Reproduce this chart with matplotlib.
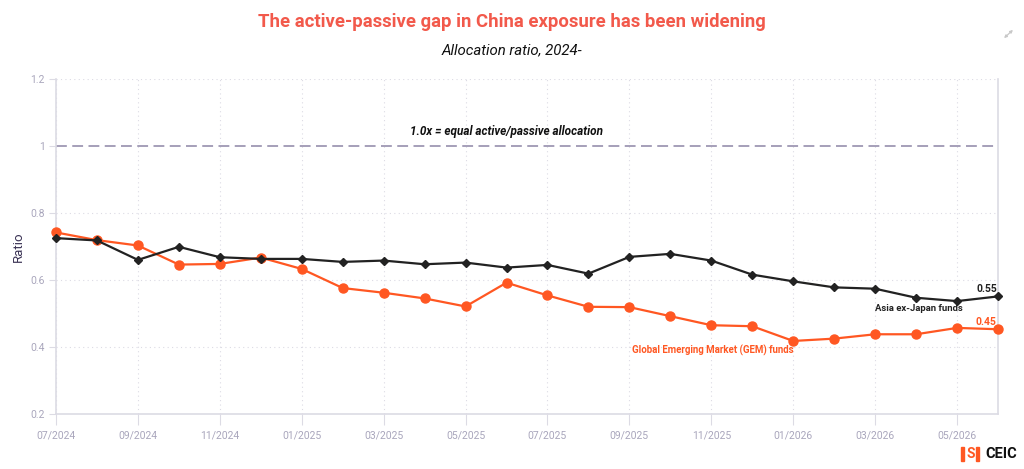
"""Active vs passive China allocation ratio, 2024-"""

import matplotlib
matplotlib.use("Agg")
import matplotlib.pyplot as plt
from matplotlib.patches import Rectangle, FancyArrowPatch

plt.rcParams["font.family"] = ["Roboto", "DejaVu Sans"]

months = ["07/2024", "08/2024", "09/2024", "10/2024", "11/2024", "12/2024",
          "01/2025", "02/2025", "03/2025", "04/2025", "05/2025", "06/2025",
          "07/2025", "08/2025", "09/2025", "10/2025", "11/2025", "12/2025",
          "01/2026", "02/2026", "03/2026", "04/2026", "05/2026", "06/2026"]

asia_ex_japan = [0.725, 0.718, 0.660, 0.699, 0.668, 0.663,
                 0.663, 0.654, 0.658, 0.647, 0.652, 0.637,
                 0.645, 0.619, 0.669, 0.678, 0.658, 0.616,
                 0.596, 0.578, 0.574, 0.547, 0.537, 0.551]

gem = [0.742, 0.719, 0.703, 0.646, 0.648, 0.667,
       0.633, 0.576, 0.562, 0.545, 0.521, 0.592,
       0.554, 0.520, 0.519, 0.492, 0.465, 0.462,
       0.418, 0.425, 0.438, 0.438, 0.457, 0.453]

y_ticks = [0.2, 0.4, 0.6, 0.8, 1, 1.2]
y_tick_labels = ["0.2", "0.4", "0.6", "0.8", "1", "1.2"]

BLACK = "#222222"
ORANGE = "#ff5722"
GRID = "#dcdbe4"
TICK = "#a9a6bc"

fig = plt.figure(figsize=(10.24, 4.69), dpi=100)
ax = fig.add_axes([56 / 1024, 1 - 414 / 469, 942 / 1024, 335 / 469])

x = list(range(len(months)))
ax.plot(x, asia_ex_japan, color=BLACK, lw=1.6, marker="D", ms=4,
        clip_on=False, zorder=4)
ax.plot(x, gem, color=ORANGE, lw=1.6, marker="o", ms=6.5,
        clip_on=False, zorder=3)

# reference line at parity
ax.axhline(1.0, color="#9e97b3", lw=1.3, ls=(0, (6, 3)), zorder=2)
ax.text(11.0, 1.042, "1.0x = equal active/passive allocation", ha="center",
        va="center", fontsize=8.5, fontweight="bold", fontstyle="italic",
        color="#111111")

ax.set_xlim(0, len(months) - 1)
ax.set_ylim(0.2, 1.2)
ax.set_xticks(x[::2])
ax.set_xticklabels(months[::2])
ax.set_yticks(y_ticks)
ax.set_yticklabels(y_tick_labels)
ax.tick_params(axis="x", length=8, color=GRID, labelcolor=TICK, labelsize=7.5,
               pad=4)
ax.tick_params(axis="y", length=5, color=GRID, labelcolor=TICK, labelsize=7.5,
               pad=3)
ax.set_ylabel("Ratio", color="#3b3355", fontsize=9.5, labelpad=4)

ax.grid(True, color=GRID, ls=(0, (1, 3)), lw=0.8)
ax.yaxis.get_gridlines()[0].set_visible(False)
ax.yaxis.get_gridlines()[4].set_visible(False)

for side in ["left", "bottom", "right"]:
    ax.spines[side].set_color(GRID)
    ax.spines[side].set_linewidth(1.2)
ax.spines["top"].set_visible(False)

# series labels
ax.text(21.07, 0.514, "Asia ex-Japan funds", ha="center", va="center",
        fontsize=6.8, fontweight="bold", color=BLACK)
ax.text(16.04, 0.390, "Global Emerging Market (GEM) funds", ha="center",
        va="center", fontsize=6.9, fontweight="bold", color=ORANGE)
ax.text(22.97, asia_ex_japan[-1] + 0.006, f"{asia_ex_japan[-1]:.2f}",
        ha="right", va="bottom", fontsize=7.5, fontweight="bold", color=BLACK)
ax.text(22.97, gem[-1] + 0.006, f"{gem[-1]:.2f}", ha="right", va="bottom",
        fontsize=7.5, fontweight="bold", color=ORANGE)

fig.text(0.5, 1 - 22 / 469, "The active-passive gap in China exposure has been widening",
         ha="center", va="center", fontsize=13.3, fontweight="bold",
         color="#f2594b")
fig.text(0.5, 1 - 50 / 469, "Allocation ratio, 2024-", ha="center", va="center",
         fontsize=10.8, fontstyle="italic", color="#111111")

# expand icon (top right)
fig.add_artist(FancyArrowPatch((1002 / 1024, 1 - 40 / 469), (1015 / 1024, 1 - 28 / 469),
                               transform=fig.transFigure, arrowstyle="<|-|>",
                               mutation_scale=4, color="#c8c8c8", lw=0.9))

# CEIC logo
for x0 in [961, 976]:
    fig.patches.append(Rectangle((x0 / 1024, 1 - 461 / 469), 3 / 1024, 14 / 469,
                                 transform=fig.transFigure, color=ORANGE))
fig.text(970.5 / 1024, 1 - 454 / 469, "S", ha="center", va="center",
         fontsize=10, fontweight="bold", color=ORANGE)
fig.text(985 / 1024, 1 - 454 / 469, "CEIC", ha="left", va="center",
         fontsize=10.5, fontweight="bold", color="#111111")

fig.savefig("out.png", dpi=100)
